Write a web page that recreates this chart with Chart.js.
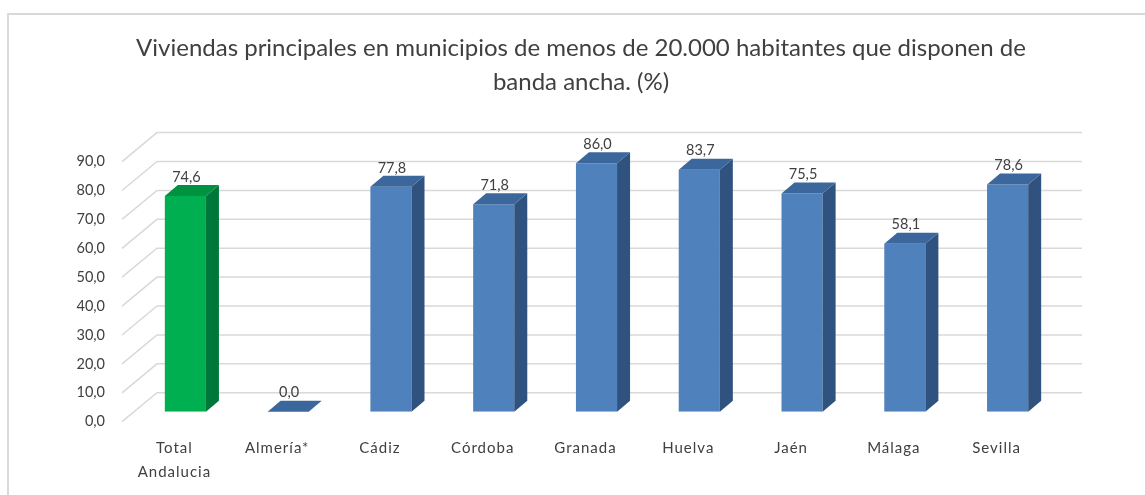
<!DOCTYPE html>
<html>
<head>
<meta charset="utf-8">
<script src="https://cdn.jsdelivr.net/npm/chart.js@4"></script>
<style>
  html, body { margin: 0; padding: 0; background: #fff; overflow: hidden; }
  #wrap { position: relative; width: 1145px; height: 495px; }
</style>
</head>
<body>
<div id="wrap"><canvas id="chart"></canvas></div>
<script>
// datos
const categories = [['Total', 'Andalucia'], 'Almería*', 'Cádiz', 'Córdoba', 'Granada', 'Huelva', 'Jaén', 'Málaga', 'Sevilla'];
const values = [74.6, 0.0, 77.8, 71.8, 86.0, 83.7, 75.5, 58.1, 78.6];
const yMin = 0, yMax = 90, yStep = 10;
const titleLines = ['Viviendas principales en municipios de menos de 20.000 habitantes que disponen de', 'banda ancha. (%)'];

const FONT = 'Lato, "Open Sans", sans-serif';
const TEXT = '#404040';
const GRID = '#d9d9d9';
// caras 3D: [frente, lado, arriba]
const GREEN = ['#00b050', '#00773a', '#00923f'];
const BLUE = ['#4f81bd', '#30527e', '#3c679c'];
const DEPTH = { dx: 13, dy: -11 };     // profundidad de la barra
const FRONT = { dx: -12, dy: 10 };     // plano frontal respecto al de las barras
const BACK = { dx: 23, dy: -19 };      // pared del fondo

const fmt = v => v.toFixed(1).replace('.', ',');
const faces = i => (i === 0 ? GREEN : BLUE);

const plot3d = {
  id: 'plot3d',
  beforeDatasetsDraw(chart) {
    const { ctx, chartArea: a, scales: { x, y } } = chart;
    ctx.save();
    // marco
    ctx.strokeStyle = GRID;
    ctx.lineWidth = 2;
    ctx.beginPath();
    ctx.moveTo(8, chart.height + 5);
    ctx.lineTo(8, 14);
    ctx.lineTo(chart.width + 5, 14);
    ctx.stroke();

    // título
    ctx.fillStyle = TEXT;
    ctx.font = '24px ' + FONT;
    ctx.textAlign = 'center';
    ctx.textBaseline = 'middle';
    titleLines.forEach((t, i) => ctx.fillText(t, 581, 48 + i * 34));

    // cuadrícula: pared del fondo + diagonales del lateral
    ctx.strokeStyle = GRID;
    ctx.lineWidth = 1.5;
    y.ticks.forEach(t => {
      const py = y.getPixelForValue(t.value);
      ctx.beginPath();
      ctx.moveTo(a.left + FRONT.dx, py + FRONT.dy);
      ctx.lineTo(a.left + BACK.dx, py + BACK.dy);
      ctx.lineTo(a.right + BACK.dx, py + BACK.dy);
      ctx.stroke();
    });

    // etiquetas eje Y
    ctx.fillStyle = TEXT;
    ctx.font = '14.5px ' + FONT;
    ctx.textAlign = 'right';
    y.ticks.forEach(t => {
      ctx.fillText(fmt(t.value), 105, y.getPixelForValue(t.value) + FRONT.dy);
    });

    // etiquetas eje X
    ctx.font = '15px ' + FONT;
    ctx.letterSpacing = '1px';
    ctx.textAlign = 'center';
    categories.forEach((c, i) => {
      const px = x.getPixelForValue(i) + FRONT.dx + 1;
      [].concat(c).forEach((line, k) => ctx.fillText(line, px, a.bottom + 36 + k * 24));
    });
    ctx.restore();
  },
  afterDatasetsDraw(chart) {
    const { ctx } = chart;
    const meta = chart.getDatasetMeta(0);
    ctx.save();
    meta.data.forEach((bar, i) => {
      const { x, y, base, width } = bar.getProps(['x', 'y', 'base', 'width'], true);
      const l = x - width / 2, r = x + width / 2;
      const f = faces(i);
      // lado
      if (base - y > 0.5) {
        ctx.fillStyle = f[1];
        ctx.beginPath();
        ctx.moveTo(r, y);
        ctx.lineTo(r + DEPTH.dx, y + DEPTH.dy);
        ctx.lineTo(r + DEPTH.dx, base + DEPTH.dy);
        ctx.lineTo(r, base);
        ctx.closePath();
        ctx.fill();
      }
      // arriba
      ctx.fillStyle = f[2];
      ctx.beginPath();
      ctx.moveTo(l, y);
      ctx.lineTo(l + DEPTH.dx, y + DEPTH.dy);
      ctx.lineTo(r + DEPTH.dx, y + DEPTH.dy);
      ctx.lineTo(r, y);
      ctx.closePath();
      ctx.fill();

      // etiqueta de valor
      ctx.fillStyle = TEXT;
      ctx.font = '14.5px ' + FONT;
      ctx.textAlign = 'center';
      ctx.textBaseline = 'middle';
      ctx.fillText(fmt(values[i]), x + 1, y - 19);
    });
    ctx.restore();
  }
};

new Chart(document.getElementById('chart'), {
  type: 'bar',
  data: {
    labels: categories,
    datasets: [{
      data: values,
      backgroundColor: values.map((v, i) => faces(i)[0]),
      borderWidth: 0,
      barPercentage: 0.4,
      categoryPercentage: 1
    }]
  },
  options: {
    responsive: true,
    maintainAspectRatio: false,
    animation: false,
    layout: { padding: { left: 134, right: 86, top: 151.6, bottom: 83.3 } },
    plugins: { legend: { display: false }, title: { display: false }, tooltip: { enabled: false } },
    scales: {
      x: { display: false },
      y: { display: false, min: yMin, max: yMax, ticks: { stepSize: yStep } }
    }
  },
  plugins: [plot3d]
});
</script>
</body>
</html>
